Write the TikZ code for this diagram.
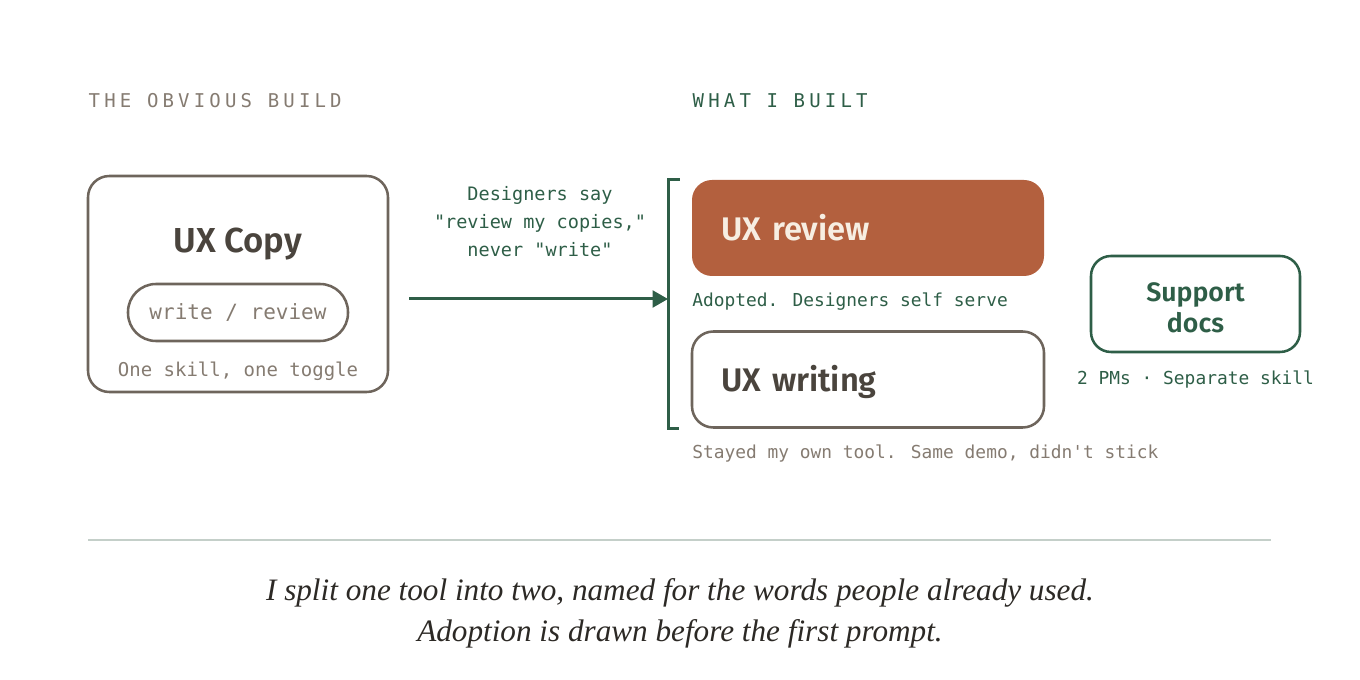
\documentclass[tikz,border=0pt]{standalone}
\usepackage{fontspec}
\usetikzlibrary{arrows.meta,positioning}
\newfontfamily\uisans{Fira Sans}[BoldFont={Fira Sans SemiBold}]
\newfontfamily\codefont{DejaVu Sans Mono}
\newfontfamily\headfont[LetterSpace=22]{DejaVu Sans Mono}
\newfontfamily\notefont{Liberation Serif}
\definecolor{stone}{HTML}{6E655C}
\definecolor{ink}{HTML}{4A443D}
\definecolor{muted}{HTML}{857B71}
\definecolor{pine}{HTML}{2E5E47}
\definecolor{rust}{HTML}{B3603E}
\definecolor{cream}{HTML}{F7EEE2}
\definecolor{rule}{HTML}{C4CFC9}
\tikzset{
  head/.style={anchor=west, font=\headfont\fontsize{14.25pt}{17pt}\selectfont},
  note/.style={font=\codefont\fontsize{13.4pt}{21pt}\selectfont, inner sep=0pt},
  title/.style={font=\uisans\bfseries\fontsize{24.5pt}{29pt}\selectfont, text=ink},
  toolbox/.style={draw=stone, line width=1.9pt, rounded corners=16pt},
  wide/.style={minimum width=264pt, minimum height=72pt, text width=220pt, align=left, inner xsep=21.75pt, rounded corners=15pt}
}
\begin{document}
\begin{tikzpicture}[x=0.75pt, y=-0.75pt]
\useasboundingbox (0,0) rectangle (1360,680);
% left side
\node[head, text=muted] (oldhead) at (84,101) {THE OBVIOUS BUILD};
\node[toolbox, minimum width=225pt, minimum height=162pt] (copy) at (238,284) {};
\node[title, font=\uisans\bfseries\fontsize{26pt}{30pt}\selectfont] (copytitle) at (238,244) {UX Copy};
\node[draw=stone, line width=1.9pt, rounded corners=21pt, minimum width=165pt, minimum height=42.75pt,
  font=\codefont\fontsize{15.75pt}{19pt}\selectfont, text=muted] (toggle) at (238,312.5) {write / review};
\node[note, font=\codefont\fontsize{14.25pt}{17pt}\selectfont, text=muted] (copynote) at (238,371) {One skill, one toggle};
% middle
\coordinate (split) at (668,299);
\node[note, font=\codefont\fontsize{13.9pt}{21pt}\selectfont, text=pine, align=center] (why) at (540,222) {Designers say\\"review my copies,"\\never "write"};
\draw[pine, line width=2.25pt, -{Triangle[length=11.5pt, width=12.5pt]}] ([xshift=15pt]copy.east |- split) -- (split);
% right side
\node[head, text=pine] (newhead) at (688,101) {WHAT I BUILT};
\node[wide, fill=rust, title, text=cream] (review) at (868,228) {UX review};
\node[note, text=pine, anchor=west] (reviewnote) at (692,302) {Adopted. Designers self serve};
\node[wide, toolbox, title, text depth=0pt, text height=0pt] (writing) at (868,379.5) {\raisebox{-0.36em}{UX writing}};
\node[note, text=muted, anchor=west] (writingnote) at (692,454) {Stayed my own tool. Same demo, didn't stick};
\draw[pine, line width=2.25pt] ([xshift=-9pt]review.north west) -- (split |- review.north) -- (split |- writing.south) -- ([xshift=-9pt]writing.south west);
\node[draw=pine, line width=1.9pt, rounded corners=15pt, minimum width=156.75pt, minimum height=72pt, align=center,
  font=\uisans\bfseries\fontsize{20pt}{23.25pt}\selectfont, text=pine] (docs) at (1195.5,304) {};
\node[align=center, font=\uisans\bfseries\fontsize{20pt}{23.25pt}\selectfont, text=pine] (docstext) at (1195.5,308) {Support\\docs};
\node[note, text=pine] (docsnote) at (1195.5,380) {2 PMs · Separate skill};
% caption
\draw[rule, line width=1.1pt] (88,540) -- (1271,540);
\node[font=\notefont\itshape\fontsize{23.4pt}{30.75pt}\selectfont, text=ink!60!black, align=center] (caption) at (680,613)
  {I split one tool into two, named for the words people already used.\\Adoption is drawn before the first prompt.};
\end{tikzpicture}
\end{document}
